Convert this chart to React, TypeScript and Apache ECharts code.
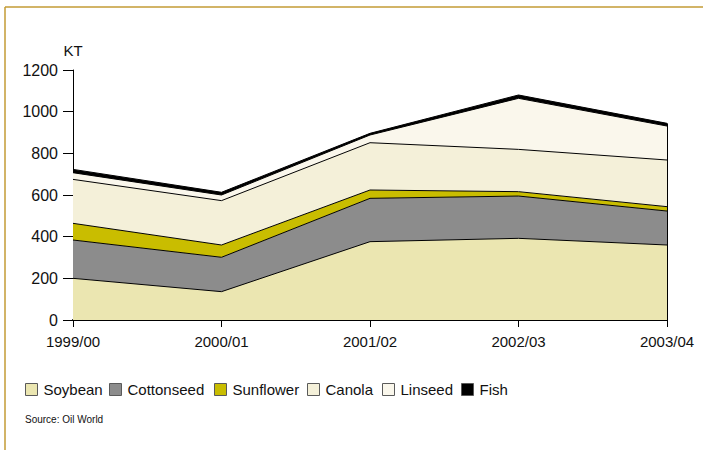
import React, { useEffect, useRef } from "react";
import * as echarts from "echarts";

const categories = ["1999/00", "2000/01", "2001/02", "2002/03", "2003/04"];
const soybean = [200, 136, 376, 392, 360];
const cottonseed = [184, 165, 208, 203, 163];
const sunflower = [80, 59, 40, 21, 21];
const canola = [211, 213, 227, 203, 224];
const linseed = [32, 27, 37, 245, 163];
const fish = [16, 13, 8, 16, 13];
const yTicks = [0, 200, 400, 600, 800, 1000, 1200];

const FONT = "'Liberation Sans', Arial, sans-serif";

const seriesDefs = [
  { name: "Soybean", data: soybean, color: "#ebe6b1" },
  { name: "Cottonseed", data: cottonseed, color: "#8c8c8c" },
  { name: "Sunflower", data: sunflower, color: "#c9bd00" },
  { name: "Canola", data: canola, color: "#f4f0d9" },
  { name: "Linseed", data: linseed, color: "#faf7ec" },
  { name: "Fish", data: fish, color: "#000000" },
];
const legendLefts = [20, 104, 209, 302, 377, 456];

export default function App() {
  const ref = useRef<HTMLDivElement>(null);
  useEffect(() => {
    if (!ref.current) return;
    const chart = echarts.init(ref.current, undefined, { renderer: "svg" });
    const lastIdx = categories.length - 1;
    const total = seriesDefs.reduce((s, d) => s + d.data[lastIdx], 0);
    const series: any[] = seriesDefs.map((d, i) => ({
      name: d.name,
      type: "line",
      stack: "total",
      data: d.data,
      symbol: "none",
      areaStyle: { color: d.color, opacity: 1 },
      itemStyle: { color: d.color },
      lineStyle: { color: "#000", width: 1 },
      z: 2,
      markLine:
        i === seriesDefs.length - 1
          ? {
              silent: true,
              symbol: "none",
              label: { show: false },
              lineStyle: { color: "#000", width: 1, type: "solid" },
              data: [
                [
                  { coord: [categories[lastIdx], 0] },
                  { coord: [categories[lastIdx], total] },
                ],
              ],
            }
          : undefined,
    }));
    const legends = seriesDefs.map((d, i) => ({
      left: legendLefts[i],
      top: 377,
      itemWidth: 12,
      itemHeight: 12,
      icon: "rect",
      data: [
        {
          name: d.name,
          itemStyle: { borderColor: "#5a5a5a", borderWidth: 1 },
        },
      ],
      textStyle: { fontFamily: FONT, fontSize: 15, color: "#111", padding: [0, 0, 0, 1] },
      itemGap: 0,
      selectedMode: false,
    }));
    chart.setOption({
      animation: false,
      backgroundColor: "#fff",
      grid: { left: 73, right: 36, top: 70, bottom: 130, containLabel: false },
      legend: legends,
      xAxis: {
        type: "category",
        data: categories,
        boundaryGap: false,
        axisLine: { show: true, lineStyle: { color: "#000", width: 2 } },
        axisTick: { show: true, length: 7, lineStyle: { color: "#000", width: 1 } },
        axisLabel: { fontFamily: FONT, fontSize: 15, color: "#111", margin: 14 },
        splitLine: { show: false },
      },
      yAxis: {
        type: "value",
        min: yTicks[0],
        max: yTicks[yTicks.length - 1],
        interval: 200,
        name: "KT",
        nameLocation: "end",
        nameGap: 12,
        nameTextStyle: { fontFamily: FONT, fontSize: 15, color: "#111", align: "center" },
        axisLine: { show: true, lineStyle: { color: "#000", width: 1 } },
        axisTick: { show: true, length: 10, lineStyle: { color: "#000" } },
        axisLabel: {
          fontFamily: FONT,
          fontSize: 16,
          color: "#111",
          margin: 15,
          formatter: (v: number) => String(v),
        },
        splitLine: { show: false },
      },
      graphic: [
        { type: "line", shape: { x1: 5, y1: 7, x2: 703, y2: 7 }, style: { stroke: "#c39b35", lineWidth: 1.5 } },
        { type: "line", shape: { x1: 5, y1: 7, x2: 5, y2: 450 }, style: { stroke: "#c39b35", lineWidth: 1.5 } },
        {
          type: "text",
          left: 25,
          top: 414,
          style: { text: "Source: Oil World", font: `10px ${FONT}`, fill: "#111" },
        },
      ],
      series,
    });
    return () => chart.dispose();
  }, []);
  return <div ref={ref} style={{ width: 703, height: 450, position: "absolute", left: 0, top: 0 }} />;
}
